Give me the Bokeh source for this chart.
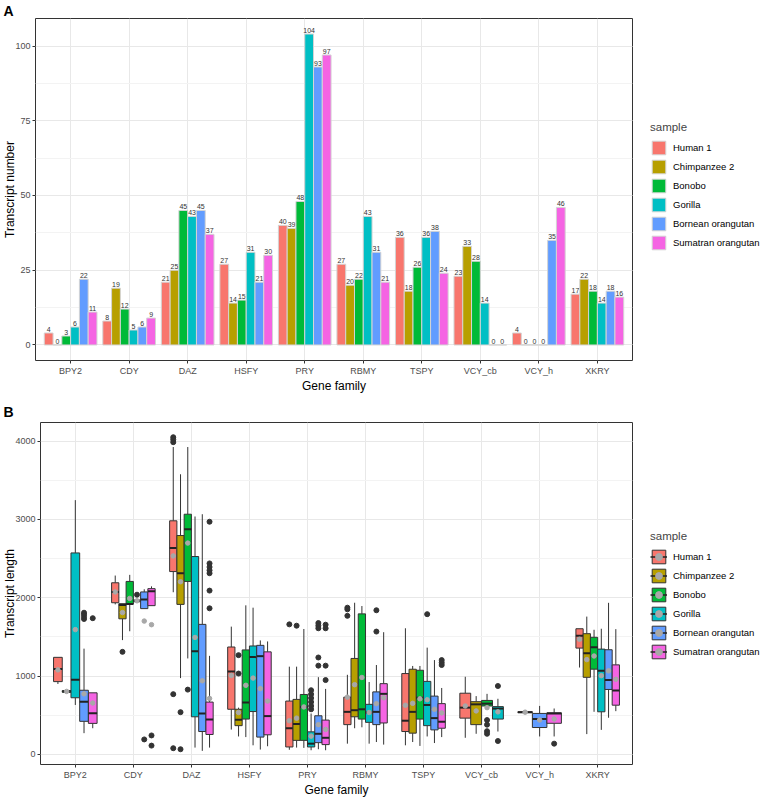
from bokeh.plotting import figure
from bokeh.models import (Range1d, FixedTicker, SingleIntervalTicker, Legend,
                          LegendItem, Title, ColumnDataSource)
from bokeh.layouts import column, row
from bokeh.core.properties import value
from bokeh.embed import file_html
from bokeh.resources import INLINE

FAMILIES = ["BPY2", "CDY", "DAZ", "HSFY", "PRY", "RBMY", "TSPY", "VCY_cb", "VCY_h", "XKRY"]
SAMPLES = ["Human 1", "Chimpanzee 2", "Bonobo", "Gorilla", "Bornean orangutan", "Sumatran orangutan"]
COLORS = ["#F8766D", "#B79F00", "#00BA38", "#00BFC4", "#619CFF", "#F564E3"]

# Panel A: transcript counts [family][sample]
COUNTS = [
    [4, 0, 3, 6, 22, 11],
    [8, 19, 12, 5, 6, 9],
    [21, 25, 45, 43, 45, 37],
    [27, 14, 15, 31, 21, 30],
    [40, 39, 48, 104, 93, 97],
    [27, 20, 22, 43, 31, 21],
    [36, 18, 26, 36, 38, 24],
    [23, 33, 28, 14, 0, 0],
    [4, 0, 0, 0, 35, 46],
    [17, 22, 18, 14, 18, 16],
]

# Panel B: transcript length box stats [family][sample] (None = no transcripts)
Q1 = [
    [930, None, 795, 724, 423, 397],
    [1937, 1732, 1920, 1950, 1862, 1900],
    [2335, 1916, 2209, 481, 293, 255],
    [577, 368, 452, 548, 222, 251],
    [96, 180, 180, 96, 151, 126],
    [381, 481, 452, 410, 381, 402],
    [293, 272, 452, 368, 314, 335],
    [464, 381, 619, 452, None, None],
    [535, None, None, None, 344, 398],
    [1358, 985, 1089, 545, 830, 629],
]
MED = [
    [1090, None, 805, 954, 674, 527],
    [2075, 1908, 1920, 1962, 1979, 2084],
    [2636, 2314, 2874, 1318, 523, 448],
    [1059, 443, 665, 1243, 1255, 490],
    [335, 389, 607, 138, 264, 213],
    [544, 565, 577, 536, 544, 774],
    [431, 544, 724, 632, 464, 418],
    [598, 640, 649, 586, None, None],
    [540, None, None, None, 453, 524],
    [1517, 1291, 1370, 1068, 951, 817],
]
Q3 = [
    [1240, None, 815, 2573, 820, 787],
    [2192, 1925, 2209, 1970, 2075, 2117],
    [2983, 2795, 3067, 2527, 1661, 669],
    [1372, 577, 1335, 1385, 1393, 1310],
    [682, 703, 766, 289, 494, 439],
    [732, 1226, 1795, 640, 799, 904],
    [1033, 1088, 1075, 933, 745, 649],
    [782, 674, 690, 611, None, None],
    [545, None, None, None, 524, 532],
    [1605, 1542, 1496, 1345, 1337, 1144],
]
WLO = [
    [900, None, 795, 632, 272, 335],
    [1916, 1460, 1573, 1950, 1862, 1900],
    [2071, 975, 1226, 88, 46, 88],
    [318, 230, 222, 117, 63, 105],
    [60, 88, 84, 54, 67, 54],
    [138, 335, 347, 138, 159, 126],
    [117, 159, 109, 230, 146, 222],
    [213, 264, 619, 293, None, None],
    [535, None, None, None, 230, 230],
    [1110, 260, 545, 314, 469, 553],
]
WHI = [
    [1240, None, 815, 3247, 1351, 787],
    [2284, 1925, 2293, 1970, 2109, 2146],
    [3925, 3577, 3925, 3038, 3067, 1259],
    [1632, 598, 1904, 1874, 1456, 1443],
    [1121, 1121, 1602, 523, 987, 837],
    [1017, 1937, 1895, 925, 1142, 1561],
    [1611, 1130, 1130, 1364, 1205, 849],
    [992, 745, 774, 711, None, None],
    [545, None, None, None, 620, 587],
    [1605, 1760, 1592, 1605, 1936, 1600],
]
MEAN = [
    [1080, None, 805, 1594, 774, 657],
    [2075, 1812, 1992, 1962, 1703, 1657],
    [2535, 2205, 2699, 1494, 941, 715],
    [1008, 536, 883, 975, 841, 682],
    [431, 464, 607, 234, 381, 320],
    [732, 891, 983, 536, 649, 724],
    [628, 653, 711, 699, 577, 531],
    [619, 556, 598, 544, None, None],
    [540, None, None, None, 440, 453],
    [1471, 1211, 1257, 1006, 1068, 960],
]
OUTLIERS = [
    [[], [], [], [], [1730, 1760, 1790, 1810], [1740]],
    [[], [1310], [], [2040], [192], [243, 113]],
    [[4050, 4021, 3987, 770, 80], [540, 67], [828], [], [], [2971, 2439, 2393, 2351, 2314, 2092, 1866]],
    [[], [1268, 1033], [], [], [], []],
    [[1661], [1644], [], [820, 770, 720, 670, 620, 577], [1678, 1644, 1611, 1238, 1134], [1657, 1611, 1134, 950]],
    [[1874, 1853, 1770], [], [], [], [1841, 1569], []],
    [[], [], [], [1791], [], [1205, 1172, 1142]],
    [[], [], [439, 381, 297, 264], [874, 172], [], []],
    [[], [], [], [], [], [138]],
    [[], [], [], [], [], []],
]

FONT = "Liberation Sans"
NF = len(FAMILIES)
PW = 633            # width of each panel figure
LW = 762 - PW       # width of each legend figure
HA = 395
HB = 799 - HA


def style(p, yticker, ytitle, tag, tag_offset, tag_standoff):
    p.background_fill_color = "white"
    p.border_fill_color = "white"
    p.outline_line_color = "#333333"
    p.outline_line_width = 1
    p.xaxis.ticker = FixedTicker(ticks=list(range(NF)))
    p.xaxis.major_label_overrides = {i: f for i, f in enumerate(FAMILIES)}
    p.yaxis.ticker = yticker
    for ax in p.axis:
        ax.axis_line_color = None
        ax.major_tick_line_color = "#333333"
        ax.major_tick_out = 3
        ax.major_tick_in = 0
        ax.minor_tick_out = 0
        ax.minor_tick_in = 0
        ax.major_label_text_font = FONT
        ax.major_label_text_font_size = "9px"
        ax.major_label_text_color = "#4d4d4d"
        ax.major_label_standoff = 2
        ax.axis_label_text_font = FONT
        ax.axis_label_text_font_size = "12px"
        ax.axis_label_text_font_style = "normal"
        ax.axis_label_text_color = "black"
        ax.axis_label_text_line_height = 0.8
        ax.axis_label_standoff = 0
    p.yaxis.axis_label_standoff = -5
    p.xaxis.axis_label = "Gene family"
    p.yaxis.axis_label = ytitle
    p.add_layout(Title(text=tag, align="left", offset=tag_offset, text_font=FONT,
                       text_font_size="14px", text_font_style="bold", text_color="black",
                       text_line_height=0.8, standoff=tag_standoff), "above")
    p.xgrid.grid_line_color = "#e8e8e8"
    p.ygrid.grid_line_color = "#e8e8e8"
    p.ygrid.minor_grid_line_color = "#f3f3f3"


def legend_fig(height, kind, loc_y):
    lf = figure(width=LW, height=height, output_backend="svg", toolbar_location=None,
                x_range=Range1d(0, 1), y_range=Range1d(0, 1), min_border=0,
                x_axis_location=None, y_axis_location=None)
    lf.grid.visible = False
    lf.outline_line_color = None
    lf.background_fill_color = "white"
    lf.border_fill_color = "white"
    items = []
    for s, c in zip(SAMPLES, COLORS):
        # single off-frame point: only its legend swatch is visible
        if kind == "bar":
            rs = [lf.vbar(x=[5], top=[1], bottom=0, width=0.1, fill_color=c,
                          line_color="#d4d4d4", line_width=1)]
        else:
            rs = [lf.quad(left=[5], right=[5.1], bottom=[0], top=[1], fill_color=c,
                          line_color="#333333", line_width=1),
                  lf.segment(x0=[5], x1=[5.1], y0=[0.5], y1=[0.5], line_color="#222222",
                             line_width=1.5),
                  lf.scatter(x=[5], y=[0.5], size=4, marker="circle",
                             fill_color="#a8a8a8", line_color="#a8a8a8")]
        items.append(LegendItem(label=s, renderers=rs))
    lg = Legend(items=items, title="sample", location=(17, loc_y),
                border_line_color=None, background_fill_alpha=0,
                padding=0, margin=0, spacing=2,
                glyph_width=17, glyph_height=17, label_standoff=6,
                label_text_font=FONT, label_text_font_size="9.5px",
                label_text_color="black",
                title_text_font=FONT, title_text_font_size="11.5px",
                title_text_font_style="normal", title_standoff=6)
    lf.add_layout(lg)
    return lf


# ---------------- Panel A ----------------
pA = figure(width=PW, height=HA, output_backend="svg", toolbar_location=None,
            x_range=Range1d(-0.6, NF - 0.4), y_range=Range1d(-5.2, 109.2),
            min_border_left=20, min_border_right=1, min_border_top=12, min_border_bottom=35)
style(pA, SingleIntervalTicker(interval=25, num_minor_ticks=2), "Transcript number", "A", -32, 0)

bar_w = 0.9 / len(SAMPLES)
for j, (s, c) in enumerate(zip(SAMPLES, COLORS)):
    xs = [i - 0.45 + bar_w * (j + 0.5) for i in range(NF)]
    tops = [COUNTS[i][j] for i in range(NF)]
    src = ColumnDataSource(dict(x=xs, top=tops, lab=[str(t) for t in tops]))
    pA.vbar(x="x", top="top", bottom=0, width=bar_w, source=src,
            fill_color=c, line_color="#d4d4d4", line_width=1)
    pA.text(x="x", y="top", text="lab", source=src, text_font=value(FONT),
            text_font_size="7px", text_align="center", text_baseline="bottom",
            y_offset=-1, text_color="#333333")

lgA = legend_fig(HA, "bar", 109)

# ---------------- Panel B ----------------
pB = figure(width=PW, height=HB, output_backend="svg", toolbar_location=None,
            x_range=Range1d(-0.6, NF - 0.4), y_range=Range1d(-128, 4238),
            min_border_left=20, min_border_right=1, min_border_top=27, min_border_bottom=30)
style(pB, SingleIntervalTicker(interval=1000, num_minor_ticks=2), "Transcript length", "B", -37, 5)

pos = {}
for i in range(NF):
    present = [j for j in range(len(SAMPLES)) if MED[i][j] is not None]
    w = 0.75 / len(present)
    for k, j in enumerate(present):
        pos[(i, j)] = (i - 0.375 + w * (k + 0.5), w)

for j, c in enumerate(COLORS):
    d = dict(x=[], l=[], r=[], q1=[], med=[], q3=[], lo=[], hi=[], mean=[])
    ox, oy = [], []
    for i in range(NF):
        if (i, j) not in pos:
            continue
        x, w = pos[(i, j)]
        d["x"].append(x); d["l"].append(x - w / 2); d["r"].append(x + w / 2)
        d["q1"].append(Q1[i][j]); d["med"].append(MED[i][j]); d["q3"].append(Q3[i][j])
        d["lo"].append(WLO[i][j]); d["hi"].append(WHI[i][j]); d["mean"].append(MEAN[i][j])
        for v in OUTLIERS[i][j]:
            ox.append(x); oy.append(v)
    src = ColumnDataSource(d)
    pB.segment(x0="x", x1="x", y0="q3", y1="hi", source=src, line_color="#333333", line_width=1)
    pB.segment(x0="x", x1="x", y0="q1", y1="lo", source=src, line_color="#333333", line_width=1)
    pB.quad(left="l", right="r", bottom="q1", top="q3", source=src,
            fill_color=c, line_color="#333333", line_width=1)
    pB.segment(x0="l", x1="r", y0="med", y1="med", source=src,
               line_color="#222222", line_width=2)
    if ox:
        pB.scatter(x=ox, y=oy, size=5, marker="circle", fill_color="#333333", line_color="#333333")
    pB.scatter(x="x", y="mean", source=src, size=4.5, marker="circle",
               fill_color="#a8a8a8", line_color="#a8a8a8")

lgB = legend_fig(HB, "box", 104)

layout = column(row(pA, lgA, spacing=0), row(pB, lgB, spacing=0), spacing=0)
open("out.html", "w").write(file_html(layout, INLINE))
